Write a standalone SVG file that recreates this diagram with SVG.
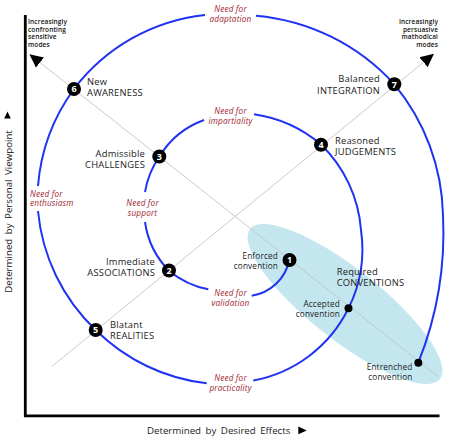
<svg xmlns="http://www.w3.org/2000/svg" width="450" height="439" viewBox="0 0 450 439">
<style>
  text { font-family: "Open Sans", "Noto Sans", "Liberation Sans", sans-serif; }
  .lbl { font-size: 9.4px; letter-spacing: 0.2px; fill: #222; }
  .sm { font-size: 8.2px; letter-spacing: 0.18px; fill: #222; }
  .need { font-size: 8.2px; letter-spacing: 0.18px; font-style: italic; fill: #a01d30; text-anchor: middle; }
  .mode { font-size: 6.5px; letter-spacing: 0.12px; font-weight: 600; fill: #111; }
  .axis { font-size: 9.7px; fill: #222; word-spacing: 2px; }
  .num { font-size: 9px; font-weight: 700; fill: #fff; text-anchor: middle; }
  .node { fill: #000; }
  .spiral { fill: none; stroke: #1f33f0; stroke-width: 2; }
  .diag { fill: none; stroke: #c4c4c4; stroke-width: 0.9; }
  .end { text-anchor: end; }
</style>
<defs>
  <marker id="arr" markerUnits="userSpaceOnUse" markerWidth="14" markerHeight="14" viewBox="0 0 14 14" refX="0" refY="7" orient="auto">
    <path d="M0,0.5 L13.5,7 L0,13.5 Z" fill="#000"/>
  </marker>
</defs>

<rect width="450" height="439" fill="#fff"/>

<g id="conventions-zone">
  <ellipse cx="345" cy="304" rx="121" ry="35.5" transform="rotate(38.3 345 304)" fill="#c4e6ef"/>
</g>

<g id="axes">
  <line x1="25.3" y1="15" x2="25.3" y2="417" stroke="#000" stroke-width="2.8"/>
  <line x1="24" y1="415.8" x2="439.5" y2="415.8" stroke="#000" stroke-width="2.8"/>
  <text class="axis" transform="translate(11.8,211.5) rotate(-90)" text-anchor="middle">Determined by Personal Viewpoint</text>
  <polygon points="7.5,111.5 4.2,118.4 10.8,118.4" fill="#000"/>
  <text class="axis" x="147" y="434">Determined by Desired Effects</text>
  <polygon points="298.3,426.5 298.3,434.3 306.7,430.4" fill="#000"/>
</g>

<g id="connectors">
  <path class="diag" d="M438.3,376.7 L40,62.5" marker-end="url(#arr)"/>
  <path class="diag" d="M51.7,366.7 L423.5,62.2" marker-end="url(#arr)"/>
  <path class="spiral" d="M289.3,260 A45,45 0 0 1 251.7,295.7"/>
  <path class="spiral" d="M208.3,289.3 A87,87 0 0 1 169,270.7 A87,87 0 0 1 145,222"/>
  <path class="spiral" d="M145,192 A87,87 0 0 1 159.3,156.7 A87,87 0 0 1 204,120"/>
  <path class="spiral" d="M254,114.3 A133,133 0 0 1 320.7,144.3 A133,133 0 0 1 361,230 A133,133 0 0 1 348.5,308.3 A133,133 0 0 1 253.3,380.5"/>
  <path class="spiral" d="M206.7,383.3 A188,188 0 0 1 95.7,330 A188,188 0 0 1 38,211"/>
  <path class="spiral" d="M38,186 A190,190 0 0 1 74,89 A190,190 0 0 1 205,15"/>
  <path class="spiral" d="M256,15.7 A212,212 0 0 1 394.3,84.3 A212,212 0 0 1 443,215 A350,350 0 0 1 418.3,362.7"/>
</g>

<g id="needs">
  <text class="need" x="230.5" y="12.1">Need for<tspan x="230.5" y="21.7">adaptation</tspan></text>
  <text class="need" x="230.5" y="114">Need for<tspan x="230.5" y="123.6">impartiality</tspan></text>
  <text class="need" x="142.5" y="206">Need for<tspan x="142.5" y="215.6">support</tspan></text>
  <text class="need" x="30" y="196.5" style="text-anchor:start">Need for<tspan x="30" y="206.1">enthusiasm</tspan></text>
  <text class="need" x="230.5" y="296.4">Need for<tspan x="230.5" y="306">validation</tspan></text>
  <text class="need" x="230.5" y="381">Need for<tspan x="230.5" y="390.6">practicality</tspan></text>
</g>

<g id="modes">
  <text class="mode" x="28" y="24.1">Increasingly<tspan x="28" y="31.7">confronting</tspan><tspan x="28" y="39.3">sensitive</tspan><tspan x="28" y="46.9">modes</tspan></text>
  <text class="mode end" x="438" y="24.1">Increasingly<tspan x="438" y="31.7">persuasive</tspan><tspan x="438" y="39.3">mathodical</tspan><tspan x="438" y="46.9">modes</tspan></text>
</g>

<g id="node1">
  <circle class="node" cx="289.5" cy="260" r="7"/>
  <text class="num" x="289.5" y="263.2">1</text>
  <text class="sm end" x="278" y="259.1">Enforced<tspan x="278" y="268.7">convention</tspan></text>
</g>
<g id="node2">
  <circle class="node" cx="169" cy="270.5" r="7"/>
  <text class="num" x="169" y="273.7">2</text>
  <text class="lbl end" x="155" y="264.55">Immediate<tspan x="155" y="276.05">ASSOCIATIONS</tspan></text>
</g>
<g id="node3">
  <circle class="node" cx="159.3" cy="156.5" r="7"/>
  <text class="num" x="159.3" y="159.7">3</text>
  <text class="lbl end" x="145" y="156.85">Admissible<tspan x="145" y="168.35">CHALLENGES</tspan></text>
</g>
<g id="node4">
  <circle class="node" cx="321" cy="144.7" r="7"/>
  <text class="num" x="321" y="147.9">4</text>
  <text class="lbl" x="335" y="143.5">Reasoned<tspan x="335" y="155">JUDGEMENTS</tspan></text>
</g>
<g id="node5">
  <circle class="node" cx="95.7" cy="330" r="7"/>
  <text class="num" x="95.7" y="333.2">5</text>
  <text class="lbl" x="110" y="327.85">Blatant<tspan x="110" y="339.35">REALITIES</tspan></text>
</g>
<g id="node6">
  <circle class="node" cx="74" cy="89" r="7"/>
  <text class="num" x="74" y="92.2">6</text>
  <text class="lbl" x="87" y="84.85">New<tspan x="87" y="96.35">AWARENESS</tspan></text>
</g>
<g id="node7">
  <circle class="node" cx="394.3" cy="84.3" r="7"/>
  <text class="num" x="394.3" y="87.5">7</text>
  <text class="lbl end" x="380" y="82.25">Balanced<tspan x="380" y="93.75">INTEGRATION</tspan></text>
</g>
<g id="required">
  <text class="lbl" x="336.7" y="274.75">Required<tspan x="336.7" y="286.25">CONVENTIONS</tspan></text>
</g>
<g id="accepted">
  <circle class="node" cx="348.5" cy="308.3" r="4"/>
  <text class="sm end" x="340" y="307.2">Accepted<tspan x="340" y="316.8">convention</tspan></text>
</g>
<g id="entrenched">
  <circle class="node" cx="418.3" cy="362.7" r="4"/>
  <text class="sm end" x="412.5" y="370.2">Entrenched<tspan x="412.5" y="379.8">convention</tspan></text>
</g>
</svg>
